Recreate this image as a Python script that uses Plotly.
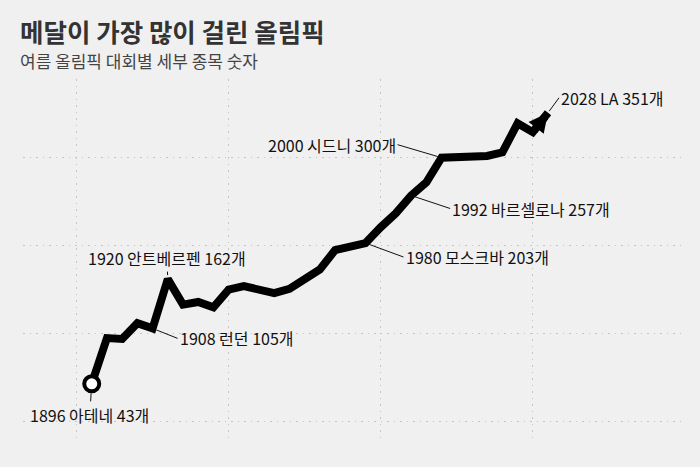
import plotly.graph_objects as go

# 하계 올림픽 대회별 세부 종목 수
years = [1896, 1900, 1904, 1908, 1912, 1920, 1924, 1928, 1932, 1936, 1948,
         1952, 1956, 1960, 1964, 1968, 1972, 1976, 1980, 1984, 1988,
         1992, 1996, 2000, 2004, 2008, 2012, 2016, 2020, 2024, 2028]
events = [43, 95, 94, 112, 106, 162, 133, 136, 130, 150, 154,
          150, 146, 151, 163, 173, 195, 199, 203, 221, 237,
          257, 272, 300, 301, 302, 302, 306, 339, 329, 351]

label_idx = [0, 4, 5, 18, 21, 23, 30]
label_texts = ["1896 아테네 43개", "1908 런던 105개", "1920 안트베르펜 162개",
               "1980 모스크바 203개", "1992 바르셀로나 257개", "2000 시드니 300개",
               "2028 LA 351개"]

FONT = "Noto Sans CJK KR"
BG = "#f0f0f0"

x = list(range(len(years)))

fig = go.Figure()
fig.add_trace(go.Scatter(
    x=x, y=events, customdata=years, mode="lines",
    line=dict(color="#000", width=8),
    hovertemplate="%{customdata}: %{y}개<extra></extra>",
    showlegend=False))
# 시작점 원
fig.add_trace(go.Scatter(
    x=x[:1], y=events[:1], mode="markers",
    marker=dict(symbol="circle", size=15, color="#ffffff",
                line=dict(color="#000000", width=4)),
    hoverinfo="skip", showlegend=False))

# 끝 화살표 (2024 -> 2028)
fig.add_annotation(x=x[-1], y=events[-1], ax=x[-2], ay=events[-2],
                   xref="x", yref="y", axref="x", ayref="y", text="",
                   showarrow=True, arrowhead=2, arrowsize=0.48, arrowwidth=8,
                   arrowcolor="#000")

# 라벨 위치 (px 오프셋)
offsets = [(-2, 31, "center", 9.5), (25, 10, "left", 4), (-1, -21, "center", 4),
           (38, 14, "left", 4), (39, 13, "left", 4), (-44, -13, "right", 4),
           (11, -15, "left", 2)]
for i, t, (ax, ay, xa, so) in zip(label_idx, label_texts, offsets):
    fig.add_annotation(x=x[i], y=events[i], text=t, ax=ax, ay=ay,
                       xanchor=xa, showarrow=True, arrowhead=0, arrowwidth=1,
                       arrowcolor="#111", standoff=so,
                       font=dict(family=FONT, size=16, color="#111"))

fig.add_annotation(x=-0.0076, y=1.1336, xref="paper", yref="paper",
                   text="<b>메달이 가장 많이 걸린 올림픽</b>", showarrow=False,
                   xanchor="left", yanchor="middle",
                   font=dict(family=FONT, size=25.5, color="#333"))
fig.add_annotation(x=-0.0076, y=1.0496, xref="paper", yref="paper",
                   text="여름 올림픽 대회별 세부 종목 숫자", showarrow=False,
                   xanchor="left", yanchor="middle",
                   font=dict(family=FONT, size=17, color="#444"))

fig.update_layout(
    width=700, height=467, paper_bgcolor=BG, plot_bgcolor=BG,
    margin=dict(l=23, r=18, t=79, b=25),
    font=dict(family=FONT),
    xaxis=dict(range=[-4.52, 38.81], tick0=-1, dtick=10, showticklabels=False,
               showgrid=True, gridcolor="#c4c4c4", gridwidth=1, griddash="1.5px,5px",
               zeroline=False, showline=False, ticks=""),
    yaxis=dict(range=[-23.1, 389.4], tick0=0, dtick=100, showticklabels=False,
               showgrid=True, gridcolor="#c4c4c4", gridwidth=1, griddash="1.5px,5px",
               zeroline=False, showline=False, ticks=""),
)

fig.write_html("out.html", config={"displayModeBar": False},
               post_script="document.body.style.margin='0';")
